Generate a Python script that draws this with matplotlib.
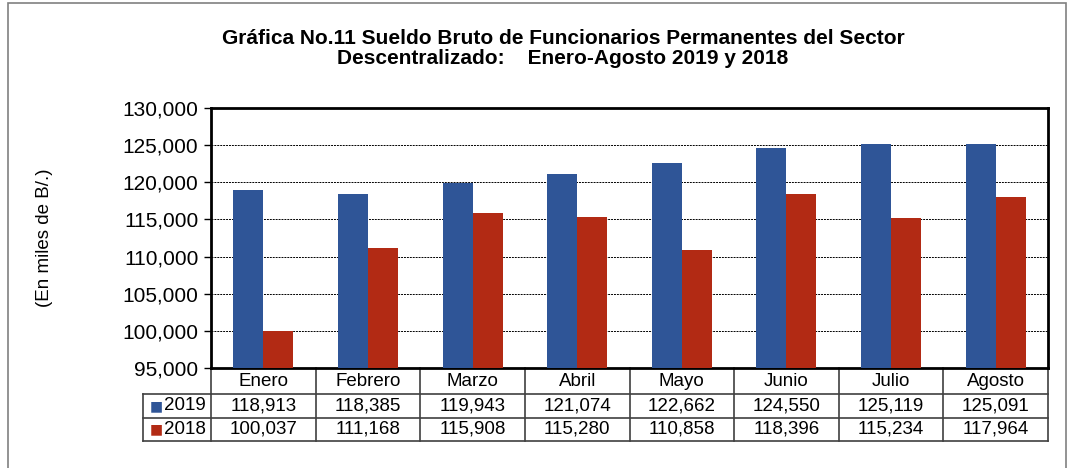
import matplotlib
matplotlib.use("Agg")
import matplotlib.pyplot as plt
import matplotlib.transforms as mtransforms
from matplotlib.patches import Rectangle
import numpy as np

plt.rcParams["font.family"] = ["Liberation Sans", "DejaVu Sans"]

meses = ["Enero", "Febrero", "Marzo", "Abril", "Mayo", "Junio", "Julio", "Agosto"]
sueldo_2019 = [118913, 118385, 119943, 121074, 122662, 124550, 125119, 125091]
sueldo_2018 = [100037, 111168, 115908, 115280, 110858, 118396, 115234, 117964]
series = [("2019", sueldo_2019, "#2F5597"), ("2018", sueldo_2018, "#B22A14")]

fig = plt.figure(figsize=(10.68, 4.68), dpi=100)
fig.patches.append(Rectangle((8 / 1068, -0.05), 1058 / 1068, 1.043, transform=fig.transFigure,
                             fill=False, edgecolor="#808080", linewidth=1.2))
ax = fig.add_axes([211 / 1068, 1 - 368 / 468, 837 / 1068, 260 / 468])

x = np.arange(len(meses))
w = 0.287
for i, (name, vals, col) in enumerate(series):
    ax.bar(x + (i - 0.5) * w, vals, width=w, color=col, zorder=3)

ax.set_xlim(-0.5, len(meses) - 0.5)
ax.set_ylim(95000, 130000)
ax.set_yticks(np.arange(95000, 130001, 5000))
ax.set_yticklabels([f"{v:,.0f}" for v in np.arange(95000, 130001, 5000)], fontsize=15)
ax.set_xticks([])
ax.tick_params(axis="y", direction="out", length=5, width=1, pad=4)
for v in np.arange(100000, 130000, 5000):
    ax.axhline(v, color="black", linestyle=(0, (2, 1)), linewidth=0.7, zorder=1)
for s in ax.spines.values():
    s.set_linewidth(2)
ax.set_ylabel("(En miles de B/.)", fontsize=13.5, labelpad=50)

# data table under the plot
tr = mtransforms.blended_transform_factory(ax.transData, ax.transAxes)
rows_y = [0, -0.1, -0.192, -0.281]
lc = "#404040"
x0 = -1.15
n = len(meses)
ax.plot([-0.5, n - 0.5], [rows_y[1]] * 2, transform=tr, color=lc, lw=1.2, clip_on=False)
for yy in rows_y[2:]:
    ax.plot([x0, n - 0.5], [yy] * 2, transform=tr, color=lc, lw=1.2, clip_on=False)
ax.plot([x0, -0.5], [rows_y[1]] * 2, transform=tr, color=lc, lw=1.2, clip_on=False)
for k in range(n + 1):
    ax.plot([k - 0.5] * 2, [rows_y[0], rows_y[3]], transform=tr, color=lc, lw=1.2, clip_on=False)
ax.plot([x0] * 2, [rows_y[1], rows_y[3]], transform=tr, color=lc, lw=1.2, clip_on=False)

for k, m in enumerate(meses):
    ax.text(k, (rows_y[0] + rows_y[1]) / 2, m, transform=tr, ha="center", va="center", fontsize=13.5)
for r, (name, vals, col) in enumerate(series):
    yc = (rows_y[r + 1] + rows_y[r + 2]) / 2
    for k, v in enumerate(vals):
        ax.text(k, yc, f"{v:,.0f}", transform=tr, ha="center", va="center", fontsize=13.5)
    ax.text(x0 + 0.06, yc, "\u25a0", transform=tr, ha="left", va="center", fontsize=10, color=col,
            family="DejaVu Sans")
    ax.text(x0 + 0.2, yc, name, transform=tr, ha="left", va="center", fontsize=13.5)

fig.text(563 / 1068, 1 - 38 / 468, "Gráfica No.11 Sueldo Bruto de Funcionarios Permanentes del Sector",
         ha="center", va="center", fontsize=15, fontweight="bold")
fig.text(563 / 1068, 1 - 59 / 468, "Descentralizado:    Enero-Agosto 2019 y 2018",
         ha="center", va="center", fontsize=15, fontweight="bold")

fig.savefig("out.png", dpi=100)
